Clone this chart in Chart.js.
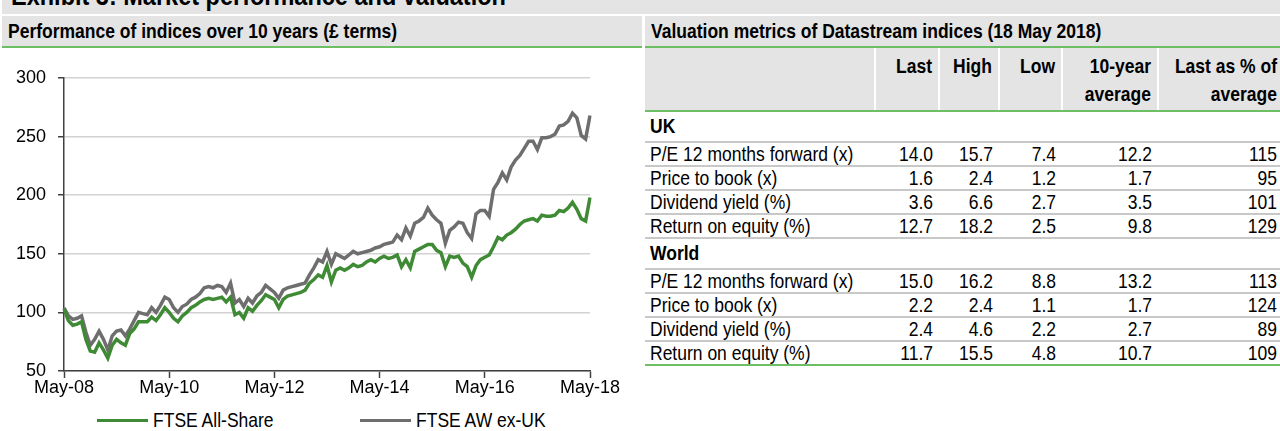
<!DOCTYPE html>
<html>
<head>
<meta charset="utf-8">
<script src="https://cdn.jsdelivr.net/npm/chart.js@4.4.1/dist/chart.umd.min.js"></script>
<style>
    body {
        margin: 0;
        width: 1280px;
        height: 431px;
        overflow: hidden;
        background: #fff;
        position: relative;
        font-family: "Liberation Sans", Arial, sans-serif;
        color: #000;
    }
    .t {
        display: inline-block;
        transform: scaleY(1.2);
    }
    .band {
        position: absolute;
        background: #e4e4e4;
        overflow: hidden;
    }
    #exhibit {
        left: 2px;
        top: 0;
        width: 1278px;
        height: 14px;
    }
    #exhibit span {
        position: absolute;
        left: 9px;
        top: -17px;
        font-size: 23.5px;
        line-height: 24px;
        font-weight: bold;
        white-space: nowrap;
    }
    .head {
        top: 16px;
        height: 30px;
        line-height: 30px;
        font-size: 17.5px;
        font-weight: bold;
        border-bottom: 2px solid #6dbf64;
        white-space: nowrap;
    }
    #headLeft { left: 2px; width: 634px; padding-left: 6px; }
    #headRight { left: 645px; width: 629px; padding-left: 6px; }
    #chartWrap {
        position: absolute;
        left: 0;
        top: 48px;
        width: 642px;
        height: 352px;
    }
    #legend {
        position: absolute;
        top: 408px;
        left: 0;
        width: 642px;
        height: 24px;
        font-size: 17.5px;
        line-height: 24px;
    }
    #legend .item {
        position: absolute;
        top: 0;
        white-space: nowrap;
    }
    #legend .swatch {
        display: inline-block;
        width: 51px;
        height: 3px;
        vertical-align: middle;
        margin-right: 5px;
        position: relative;
        top: -1px;
    }
    #valTable {
        position: absolute;
        left: 645px;
        top: 48px;
        width: 635px;
        border-collapse: collapse;
        table-layout: fixed;
        font-size: 17.5px;
    }
    #valTable td, #valTable th {
        padding: 0 6px 0 0;
        text-align: right;
        white-space: nowrap;
        overflow: hidden;
    }
    #valTable th {
        background: #e4e4e4;
        font-weight: bold;
        vertical-align: top;
        line-height: 24px;
        padding-top: 3px;
        height: 59px;
        border-left: 2px solid #fff;
        border-bottom: 2px solid #6dbf64;
    }
    #valTable th .t { transform-origin: 50% 0; }
    #valTable th:first-child { border-left: none; }
    #valTable td:first-child { text-align: left; padding-left: 5px; }
    #valTable td:last-child, #valTable th:last-child { padding-right: 3px; }
    #valTable tr.group td {
        font-weight: bold;
        height: 29px;
        border-bottom: 2px solid #c8c8c8;
    }
    #valTable tr.row td {
        height: 22px;
        line-height: 22px;
        border-bottom: 2px solid #c8c8c8;
    }
    #valTable tr.last td { border-bottom: 2px solid #6dbf64; }
</style>
</head>
<body>
<div id="exhibit" class="band"><span class="t">Exhibit 3: Market performance and valuation</span></div>
<div id="headLeft" class="band head"><span class="t">Performance of indices over 10 years (£ terms)</span></div>
<div id="headRight" class="band head"><span class="t">Valuation metrics of Datastream indices (18 May 2018)</span></div>

<div id="chartWrap"><canvas id="perfChart" width="642" height="352"></canvas></div>
<div id="legend"></div>

<table id="valTable">
    <colgroup>
        <col style="width:230px">
        <col style="width:64px">
        <col style="width:60px">
        <col style="width:63px">
        <col style="width:96px">
        <col style="width:122px">
    </colgroup>
    <thead><tr id="valHead"></tr></thead>
    <tbody id="valBody"></tbody>
</table>

<script>
    "use strict";

    // Monthly index levels, May-08 .. May-18
    const allShare = [
        103, 93, 89, 90, 92, 77, 67, 66, 74, 68, 61, 72,
        77, 74, 72, 82, 86, 92, 92, 92, 96, 93, 98, 104,
        100, 95, 92, 97, 100, 104, 106, 109, 111, 112, 111, 112,
        113, 109, 113, 98, 100, 95, 104, 101, 106, 110, 115, 113,
        111, 104, 111, 114, 115, 116, 117, 119, 125, 128, 132, 130,
        140, 126, 136, 138, 136, 138, 141, 139, 140, 143, 145, 143,
        146, 148, 146, 147, 149, 139, 145, 138, 152, 154, 156, 158,
        158, 153, 151, 139, 148, 147, 148, 142, 139, 130, 140, 145,
        147, 149, 156, 164, 162, 166, 168, 171, 175, 178, 179, 180,
        178, 183, 182, 182, 183, 187, 186, 189, 194, 188, 180, 178,
        198,
    ];
    const awExUk = [
        104, 97, 94, 95, 97, 83, 72, 77, 84, 77, 68, 80,
        84, 85, 80, 86, 93, 100, 99, 98, 104, 100, 106, 113,
        111, 104, 100, 105, 107, 111, 113, 116, 121, 122, 121, 123,
        122, 117, 125, 108, 111, 105, 112, 108, 114, 117, 123, 120,
        117, 112, 119, 121, 122, 123, 124, 125, 132, 138, 145, 143,
        152, 141, 150, 148, 146, 149, 152, 150, 151, 152, 153, 155,
        156, 158, 159, 160, 166, 162, 172, 165, 176, 178, 181, 189,
        183, 179, 176, 159, 170, 173, 177, 176, 168, 163, 184, 187,
        187, 182, 205, 211, 219, 213, 224, 230, 234, 240, 246, 246,
        239, 249, 249, 250, 252, 259, 260, 263, 270, 266, 251, 248,
        268,
    ];
    const seriesNames = ["FTSE All-Share", "FTSE AW ex-UK"];
    const seriesColors = ["#3f8a35", "#6e6e6e"];
    const yTicks = [50, 100, 150, 200, 250, 300];

    // Valuation table
    const valColumns = ["", "Last", "High", "Low", "10-year<br>average", "Last as % of<br>average"];
    const metricNames = [
        "P/E 12 months forward (x)",
        "Price to book (x)",
        "Dividend yield (%)",
        "Return on equity (%)",
    ];
    const ukRows = [
        ["14.0", "15.7", "7.4", "12.2", "115"],
        ["1.6", "2.4", "1.2", "1.7", "95"],
        ["3.6", "6.6", "2.7", "3.5", "101"],
        ["12.7", "18.2", "2.5", "9.8", "129"],
    ];
    const worldRows = [
        ["15.0", "16.2", "8.8", "13.2", "113"],
        ["2.2", "2.4", "1.1", "1.7", "124"],
        ["2.4", "4.6", "2.2", "2.7", "89"],
        ["11.7", "15.5", "4.8", "10.7", "109"],
    ];

    // Month labels May-08 .. May-18
    const monthNames = ["Jan", "Feb", "Mar", "Apr", "May", "Jun", "Jul", "Aug", "Sep", "Oct", "Nov", "Dec"];
    const months = [];
    for (let i = 0; i < allShare.length; i++) {
        const m = (4 + i) % 12;
        const y = 8 + Math.floor((4 + i) / 12);
        months.push(monthNames[m] + "-" + String(y).padStart(2, "0"));
    }

    Chart.defaults.font.family = '"Liberation Sans", Arial, sans-serif';
    Chart.defaults.font.size = 18;
    Chart.defaults.color = "#000";

    const ctx = document.getElementById("perfChart").getContext("2d");
    const perfChart = new Chart(ctx, {
        type: "line",
        data: {
            labels: months,
            datasets: [
                {
                    label: seriesNames[0],
                    data: allShare,
                    borderColor: seriesColors[0],
                    backgroundColor: seriesColors[0],
                    borderWidth: 3.5,
                    pointRadius: 0,
                    tension: 0,
                },
                {
                    label: seriesNames[1],
                    data: awExUk,
                    borderColor: seriesColors[1],
                    backgroundColor: seriesColors[1],
                    borderWidth: 3.5,
                    pointRadius: 0,
                    tension: 0,
                },
            ],
        },
        options: {
            responsive: false,
            animation: false,
            devicePixelRatio: 1,
            layout: {
                padding: { top: 30, right: 52, left: 0, bottom: 0 },
            },
            plugins: {
                legend: { display: false },
                tooltip: { enabled: false },
            },
            scales: {
                x: {
                    offset: false,
                    afterFit: (scale) => { scale.height = 29; },
                    ticks: {
                        autoSkip: false,
                        maxRotation: 0,
                        padding: 1,
                        font: { lineHeight: 1 },
                        callback: (value, index) => (index % 24 === 0 ? months[index] : ""),
                    },
                    grid: {
                        drawOnChartArea: false,
                        tickLength: 7,
                        tickWidth: 1.5,
                        tickColor: (c) => (c.index % 24 === 0 ? "#404040" : "rgba(0,0,0,0)"),
                    },
                    border: { color: "#404040", width: 1.5 },
                },
                y: {
                    min: yTicks[0],
                    max: yTicks[yTicks.length - 1],
                    afterFit: (scale) => { scale.width = 64; },
                    afterBuildTicks: (scale) => {
                        scale.ticks = yTicks.map((v) => ({ value: v }));
                    },
                    ticks: { padding: 12 },
                    grid: {
                        color: "#d2d2d2",
                        lineWidth: 1.5,
                        tickLength: 6,
                        tickColor: "#404040",
                    },
                    border: { color: "#404040", width: 1.5 },
                },
            },
        },
    });

    // Legend from the chart's datasets
    const legendEl = document.getElementById("legend");
    const legendLeft = [97, 360];
    perfChart.data.datasets.forEach((ds, i) => {
        const item = document.createElement("div");
        item.className = "item";
        item.style.left = legendLeft[i] + "px";
        item.innerHTML = '<span class="swatch" style="background:' + ds.borderColor + '"></span><span class="t">' + ds.label + "</span>";
        legendEl.appendChild(item);
    });

    // Table
    const cell = (tag, v) => "<" + tag + '><span class="t">' + v + "</span></" + tag + ">";
    const headRow = document.getElementById("valHead");
    headRow.innerHTML = valColumns.map((c) => cell("th", c)).join("");
    const body = document.getElementById("valBody");
    function addGroup(name, rows, isLast) {
        const g = document.createElement("tr");
        g.className = "group";
        g.innerHTML = '<td colspan="6"><span class="t">' + name + "</span></td>";
        body.appendChild(g);
        rows.forEach((r, i) => {
            const tr = document.createElement("tr");
            tr.className = "row" + (isLast && i === rows.length - 1 ? " last" : "");
            tr.innerHTML = cell("td", metricNames[i]) + r.map((v) => cell("td", v)).join("");
            body.appendChild(tr);
        });
    }
    addGroup("UK", ukRows, false);
    addGroup("World", worldRows, true);
</script>
</body>
</html>
